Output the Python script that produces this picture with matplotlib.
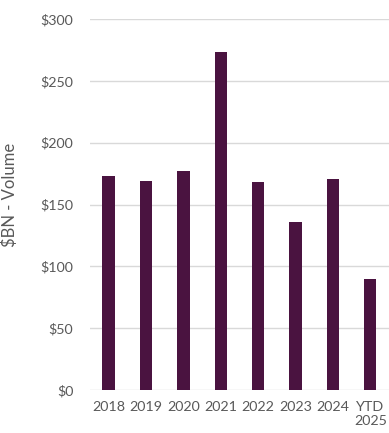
import matplotlib
matplotlib.use("Agg")
import matplotlib.pyplot as plt
import numpy as np

years = ["2018", "2019", "2020", "2021", "2022", "2023", "2024", "YTD\n2025"]
volume = [173, 169, 177, 273, 168, 136, 171, 90]

plt.rcParams['font.family'] = ['Lato', 'DejaVu Sans']

fig = plt.figure(figsize=(3.89, 4.33), dpi=100)
ax = fig.add_axes([0.231, 0.099, 0.769, 0.857])

x = np.arange(len(years))
ax.bar(x, volume, width=0.33, color='#4a1340', zorder=3)

ax.set_xlim(-0.5, len(years) - 0.5)
ax.set_ylim(0, 300)
ax.set_yticks(np.arange(0, 301, 50))
ax.set_yticklabels(["${}".format(v) for v in range(0, 301, 50)])
ax.set_xticks(x)
ax.set_xticklabels(years, linespacing=1.15)

ax.yaxis.grid(True, color='#d9d9d9', linewidth=1, zorder=0)
for s in ax.spines.values():
    s.set_visible(False)
ax.tick_params(axis='both', length=0, colors='#595959', labelsize=10.3)
ax.tick_params(axis='y', pad=12)
ax.tick_params(axis='x', pad=8)

ax.set_ylabel("$BN - Volume", color='#595959', fontsize=12)
ax.yaxis.set_label_coords(-0.24, 0.527)

fig.savefig("out.png", dpi=100)
